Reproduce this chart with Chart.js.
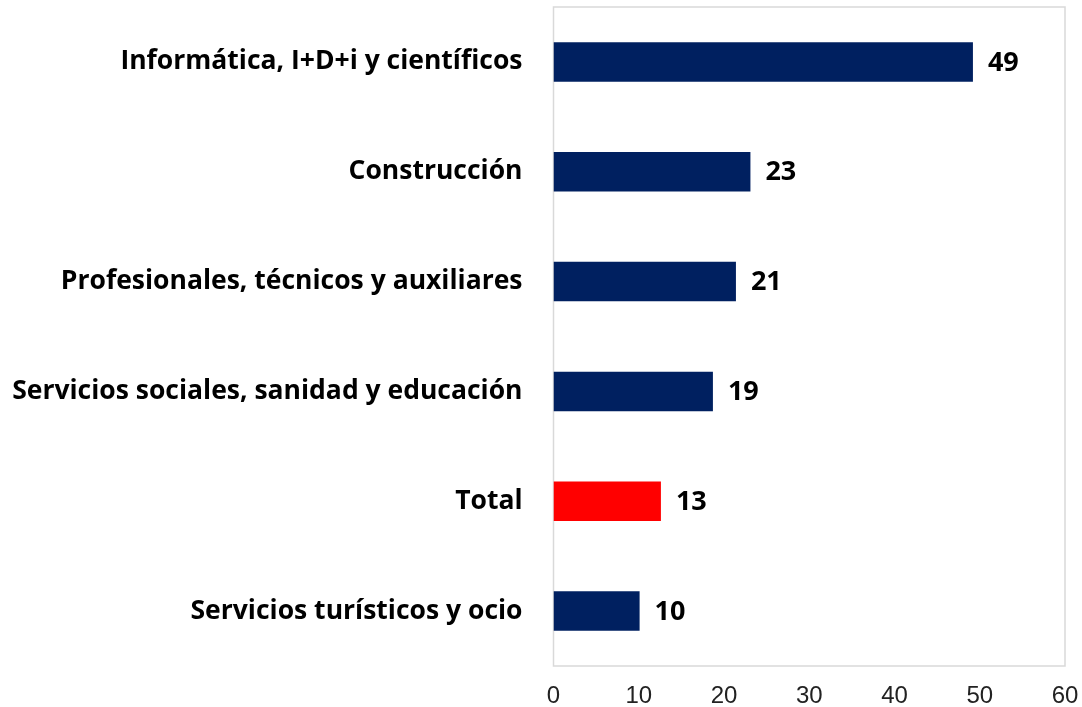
<!DOCTYPE html>
<html>
<head>
<meta charset="utf-8">
<script src="https://cdn.jsdelivr.net/npm/chart.js@4"></script>
<style>
  html, body { margin: 0; padding: 0; background: #fff; }
  #wrap { width: 1082px; height: 707px; }
</style>
</head>
<body>
<div id="wrap"><canvas id="chart" width="1082" height="707"></canvas></div>
<script>
// ── Data ──
const categories = [
  "Informática, I+D+i y científicos",
  "Construcción",
  "Profesionales, técnicos y auxiliares",
  "Servicios sociales, sanidad y educación",
  "Total",
  "Servicios turísticos y ocio",
];
const values = [49.2, 23.1, 21.4, 18.7, 12.6, 10.1];
const barColors = ["#002060", "#002060", "#002060", "#002060", "#FF0000", "#002060"];
const xTicks = [0, 10, 20, 30, 40, 50, 60];

// ── Plot frame + value labels ──
const framePlugin = {
  id: "frame",
  beforeDatasetsDraw(chart) {
    const { ctx, chartArea: a } = chart;
    ctx.save();
    ctx.strokeStyle = "#d9d9d9";
    ctx.lineWidth = 1.5;
    ctx.strokeRect(a.left, a.top, a.right - a.left, a.bottom - a.top);
    ctx.restore();
  },
  afterDatasetsDraw(chart) {
    const { ctx } = chart;
    const meta = chart.getDatasetMeta(0);
    ctx.save();
    ctx.font = "bold 27px 'Open Sans'";
    ctx.fillStyle = "#000";
    ctx.textBaseline = "middle";
    ctx.textAlign = "left";
    meta.data.forEach((bar, i) => {
      ctx.fillText(String(Math.round(values[i])), bar.x + 15, bar.y + 1);
    });
    ctx.restore();
  },
};

new Chart(document.getElementById("chart").getContext("2d"), {
  type: "bar",
  data: {
    labels: categories,
    datasets: [{
      data: values,
      backgroundColor: barColors,
      borderWidth: 0,
      barPercentage: 0.36,
      categoryPercentage: 1,
    }],
  },
  options: {
    indexAxis: "y",
    responsive: false,
    animation: false,
    layout: { padding: { top: 7, right: 17, bottom: 0, left: 0 } },
    plugins: { legend: { display: false }, tooltip: { enabled: false } },
    scales: {
      x: {
        min: 0,
        max: 60,
        afterBuildTicks: (s) => { s.ticks = xTicks.map((v) => ({ value: v })); },
        afterFit: (s) => { s.height = 41; s.paddingLeft = 0; s.paddingRight = 0; },
        grid: { display: false, tickLength: 0 },
        border: { display: false },
        ticks: {
          color: "#222",
          padding: 16,
          font: { family: "'Liberation Sans', Arial", size: 24 },
          maxRotation: 0,
        },
      },
      y: {
        afterFit: (s) => { s.width = 553.5; s.paddingTop = 0; s.paddingBottom = 0; },
        grid: { display: false, tickLength: 0 },
        border: { display: false },
        ticks: {
          color: "#000",
          padding: 31,
          font: { family: "'Open Sans'", size: 26.5, weight: "bold" },
        },
      },
    },
  },
  plugins: [framePlugin],
});
</script>
</body>
</html>
